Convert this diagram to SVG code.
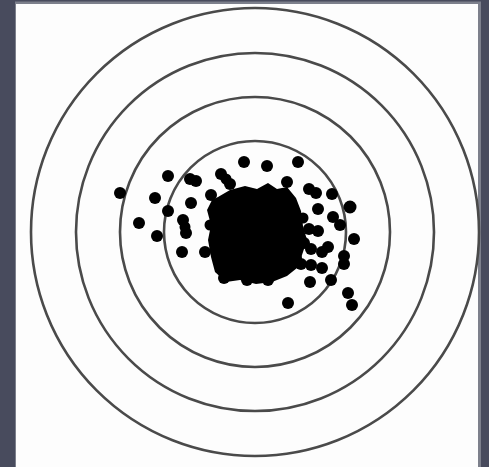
<svg xmlns="http://www.w3.org/2000/svg" width="489" height="467" viewBox="0 0 489 467">
<style>
.ring{fill:none;stroke:#4a4a4a;stroke-width:2.6}
.d{fill:#000}
</style>
<rect x="0" y="0" width="489" height="467" fill="#484b5d"/>
<rect x="15" y="1.5" width="466" height="466" fill="#7d808c"/>
<rect x="16" y="4" width="462" height="463" fill="#fdfdfd"/>
<g id="rings">
<circle class="ring" cx="255" cy="232" r="224"/>
<circle class="ring" cx="255" cy="232" r="179"/>
<circle class="ring" cx="255" cy="232" r="135"/>
<circle class="ring" cx="255" cy="232" r="91"/>
</g>
<g id="blob">
<path class="d" d="M218,197 L230,190 L245,186 L257,189 L268,183 L277,189 L287,187 L296,198 L301,211 L303,226 L307,240 L302,255 L297,268 L287,276 L272,282 L256,284 L240,280 L226,282 L215,272 L211,257 L208,240 L211,225 L207,210 L212,200 Z"/>
</g>
<g id="dots">
<circle class="d" cx="120" cy="193" r="6"/>
<circle class="d" cx="168" cy="176" r="6"/>
<circle class="d" cx="190" cy="179" r="6"/>
<circle class="d" cx="196" cy="181" r="6"/>
<circle class="d" cx="155" cy="198" r="6"/>
<circle class="d" cx="191" cy="203" r="6"/>
<circle class="d" cx="168" cy="211" r="6"/>
<circle class="d" cx="139" cy="223" r="6"/>
<circle class="d" cx="183" cy="220" r="6"/>
<circle class="d" cx="185" cy="227" r="5.5"/>
<circle class="d" cx="186" cy="233" r="6"/>
<circle class="d" cx="157" cy="236" r="6"/>
<circle class="d" cx="182" cy="252" r="6"/>
<circle class="d" cx="205" cy="252" r="6"/>
<circle class="d" cx="211" cy="195" r="6"/>
<circle class="d" cx="221" cy="174" r="6"/>
<circle class="d" cx="226" cy="179" r="5.5"/>
<circle class="d" cx="230" cy="184" r="6"/>
<circle class="d" cx="244" cy="162" r="6"/>
<circle class="d" cx="267" cy="166" r="6"/>
<circle class="d" cx="298" cy="162" r="6"/>
<circle class="d" cx="287" cy="182" r="6"/>
<circle class="d" cx="309" cy="189" r="6"/>
<circle class="d" cx="316" cy="193" r="6"/>
<circle class="d" cx="332" cy="194" r="6"/>
<circle class="d" cx="350" cy="207" r="6.5"/>
<circle class="d" cx="318" cy="209" r="6"/>
<circle class="d" cx="333" cy="217" r="6"/>
<circle class="d" cx="340" cy="225" r="6"/>
<circle class="d" cx="354" cy="239" r="6"/>
<circle class="d" cx="309" cy="229" r="6"/>
<circle class="d" cx="318" cy="231" r="6"/>
<circle class="d" cx="328" cy="247" r="6"/>
<circle class="d" cx="311" cy="249" r="6"/>
<circle class="d" cx="322" cy="252" r="6"/>
<circle class="d" cx="344" cy="256" r="6"/>
<circle class="d" cx="344" cy="264" r="6"/>
<circle class="d" cx="301" cy="264" r="6"/>
<circle class="d" cx="311" cy="265" r="6"/>
<circle class="d" cx="322" cy="268" r="6"/>
<circle class="d" cx="310" cy="282" r="6"/>
<circle class="d" cx="331" cy="280" r="6"/>
<circle class="d" cx="288" cy="303" r="6"/>
<circle class="d" cx="348" cy="293" r="6"/>
<circle class="d" cx="352" cy="305" r="6"/>
<circle class="d" cx="224" cy="278" r="6"/>
<circle class="d" cx="247" cy="280" r="6"/>
<circle class="d" cx="268" cy="280" r="6"/>
<circle class="d" cx="210" cy="225" r="5.5"/>
<circle class="d" cx="296" cy="258" r="6"/>
<circle class="d" cx="304" cy="243" r="6"/>
<circle class="d" cx="303" cy="218" r="5.5"/>
</g>
</svg>
